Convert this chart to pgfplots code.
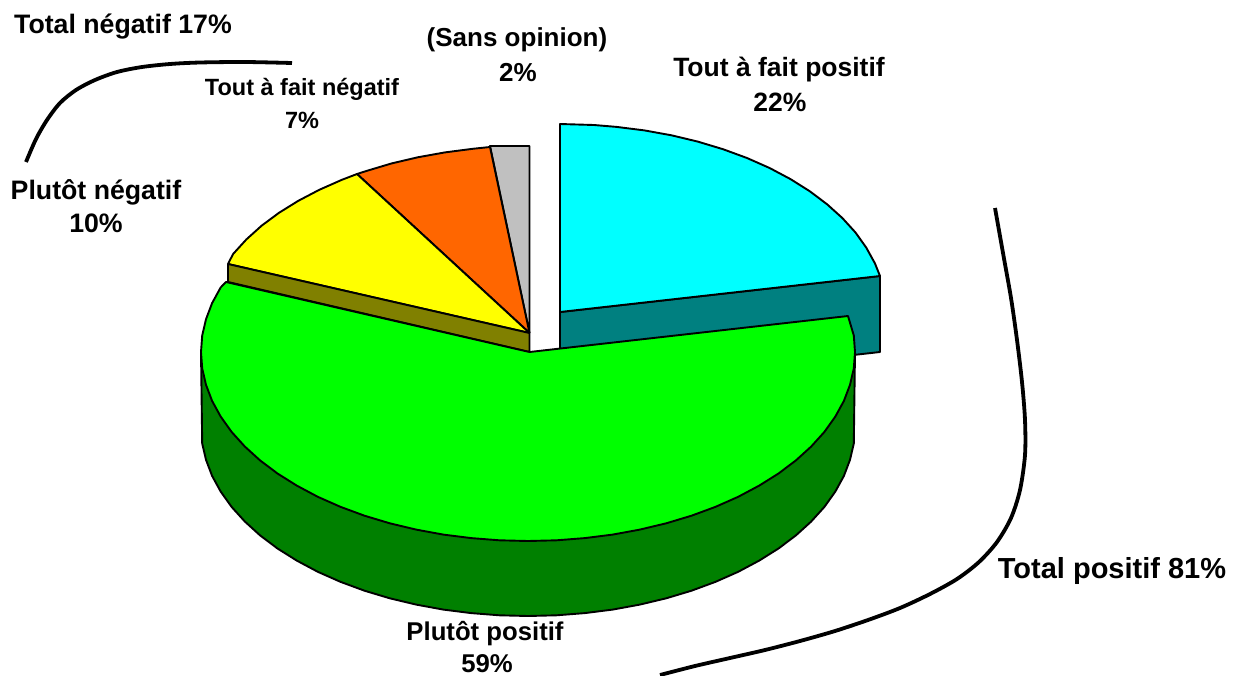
\documentclass[border=0pt]{standalone}
\usepackage{fontspec}
\setmainfont{Liberation Sans}
\usepackage{pgfplots}
\pgfplotsset{compat=1.18}
\definecolor{cCyan}{RGB}{0,255,255}
\definecolor{cTeal}{RGB}{0,128,128}
\definecolor{cGreen}{RGB}{0,255,0}
\definecolor{cDGreen}{RGB}{0,128,0}
\definecolor{cYellow}{RGB}{255,255,0}
\definecolor{cOlive}{RGB}{128,128,0}
\definecolor{cOrange}{RGB}{255,102,0}
\definecolor{cGrey}{RGB}{192,192,192}
\pgfplotsset{slice/.style={fill=#1,draw=black,line width=1.9pt,line join=round,no markers}}
\newcommand{\lab}[4]{\node[anchor=base,font=\fontsize{#3}{#3}\selectfont\bfseries,inner sep=0pt] at (axis cs:#1,#2) {#4};}
\begin{document}
\begin{tikzpicture}
\useasboundingbox (0,0) rectangle (1242pt,675pt);
\begin{axis}[
  at={(0,0)}, anchor=south west,
  scale only axis, width=1242pt, height=675pt,
  xmin=0, xmax=1242, ymin=0, ymax=675, y dir=reverse,
  hide axis, clip=true]
\addplot[slice=cTeal] coordinates {(560,312)(880,276)(880,352)(560,388)(560,312)};
\addplot[slice=cCyan] coordinates {(560,312)(560,124)(594,125)(616.6,126.9)(644.4,130.4)(671.5,135.3)(697.8,141.6)(723,149.2)(747,158)(769.6,168)(790.5,179.1)(809.7,191.2)(827,204.2)(842.3,218)(855.5,232.5)(866.3,247.7)(874.9,263.3)(880,276)(560,312)};
\addplot[slice=cGrey] coordinates {(529.5,333)(490,146)(529.5,146)(529.5,333)};
\addplot[slice=cOrange] coordinates {(529.5,333)(357,174)(366,171.1)(391.3,163.5)(417.7,157.3)(444.9,152.4)(472.7,148.8)(490,147)(529.5,333)};
\addplot[slice=cYellow] coordinates {(529.5,333)(228,264)(233.1,254)(246.3,239.5)(261.6,225.7)(279,212.8)(298.3,200.8)(319.3,189.8)(341.9,179.8)(357,174)(529.5,333)};
\addplot[slice=cOlive] coordinates {(228,264)(529.5,333)(529.5,352)(228,282)(228,264)};
\addplot[slice=cDGreen] coordinates {(201,352)(202.2,443.5)(206,459.8)(212.1,475.9)(220.7,491.6)(231.6,506.9)(244.8,521.5)(260.1,535.4)(277.5,548.5)(296.8,560.6)(317.8,571.8)(340.4,581.8)(364.5,590.7)(389.8,598.3)(416.2,604.6)(443.4,609.6)(471.2,613.1)(499.5,615.3)(528,616)(556.5,615.3)(584.8,613.1)(612.6,609.6)(639.8,604.6)(666.2,598.3)(691.5,590.7)(715.6,581.8)(738.2,571.8)(759.2,560.6)(778.5,548.5)(795.9,535.4)(811.2,521.5)(824.4,506.9)(835.3,491.6)(843.9,475.9)(850,459.8)(853.8,443.5)(855,352)(528,450)(201,352)};
\addplot[slice=cGreen] coordinates {(529.5,352)(226,282)(220.7,287.4)(212.1,303.1)(206,319.2)(202.2,335.5)(201,352)(202.2,368.5)(206,384.8)(212.1,400.9)(220.7,416.6)(231.6,431.9)(244.8,446.5)(260.1,460.4)(277.5,473.5)(296.8,485.6)(317.8,496.8)(340.4,506.8)(364.5,515.7)(389.8,523.3)(416.2,529.6)(443.4,534.6)(471.2,538.1)(499.5,540.3)(528,541)(556.5,540.3)(584.8,538.1)(612.6,534.6)(639.8,529.6)(666.2,523.3)(691.5,515.7)(715.6,506.8)(738.2,496.8)(759.2,485.6)(778.5,473.5)(795.9,460.4)(811.2,446.5)(824.4,431.9)(835.3,416.6)(843.9,400.9)(850,384.8)(853.8,368.5)(855,352)(853.8,335.5)(848,316)(529.5,352)};
\addplot[smooth,no markers,black,line width=3.8pt] coordinates {(995,208)(1003,253)(1011,298)(1017,340)(1022,382)(1025,420)(1025,455)(1020,490)(1011,518)(997,542)(979,562)(957,579)(930,594)(900,608)(868,620)(835,631)(800,641)(765,650)(730,658)(695,666)(660,675)};
\addplot[smooth,no markers,black,line width=3.8pt] coordinates {(26,162)(36,139)(47,120)(60,103)(76,90)(95,80)(117,72)(142,67)(170,64)(200,62.5)(245,62)(292,63)};
\lab{123}{33}{26.7}{Total négatif 17\%}
\lab{517}{46}{26}{(Sans opinion)}
\lab{518}{81}{26}{2\%}
\lab{779}{76}{26.5}{Tout à fait positif}
\lab{780}{111}{26.5}{22\%}
\lab{302}{95}{23.5}{Tout à fait négatif}
\lab{302}{128}{23.5}{7\%}
\lab{96}{199}{26.7}{Plutôt négatif}
\lab{96}{232}{26.7}{10\%}
\lab{485}{640}{25.7}{Plutôt positif}
\lab{487}{672}{25.7}{59\%}
\lab{1112}{578}{29}{Total positif 81\%}
\end{axis}
\end{tikzpicture}
\end{document}
